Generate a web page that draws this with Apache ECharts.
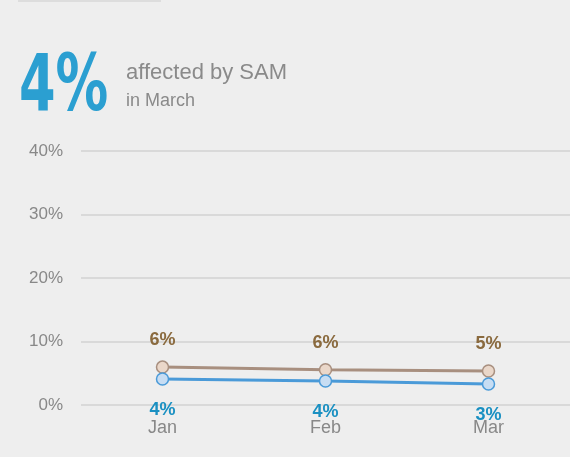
<!DOCTYPE html>
<html><head><meta charset="utf-8">
<script src="https://cdn.jsdelivr.net/npm/echarts@6/dist/echarts.min.js"></script>
<style>html,body{margin:0;padding:0;background:#eeeeee;}#c{width:570px;height:457px;}</style>
</head><body><div id="c"></div>
<script>
const months = ['Jan', 'Feb', 'Mar'];
const samBrown = [5.97, 5.55, 5.35];
const samBlue = [4.09, 3.77, 3.30];
const yTicks = [0, 10, 20, 30, 40];
const headline = '4%';
const subtitle1 = 'affected by SAM';
const subtitle2 = 'in March';

const chart = echarts.init(document.getElementById('c'));
chart.setOption({
  backgroundColor: '#eeeeee',
  animation: false,
  graphic: [
    { type: 'rect', left: 18, top: 0, shape: { width: 143, height: 2 }, style: { fill: '#dddddd' } },
    { type: 'text', x: 19, y: 51, scaleX: 0.75, style: { text: headline, font: 'bold 78px "DejaVu Sans Condensed", "DejaVu Sans", sans-serif', fill: '#2b9fd1' } },
    { type: 'text', x: 126, y: 62, style: { text: subtitle1, font: '22px "Liberation Sans", Arial, sans-serif', fill: '#8a8a8a' } },
    { type: 'text', x: 126, y: 92, style: { text: subtitle2, font: '18px "Liberation Sans", Arial, sans-serif', fill: '#8a8a8a' } }
  ],
  grid: { left: 81, top: 151, width: 493, height: 254 },
  xAxis: {
    type: 'category', data: months, boundaryGap: true,
    axisLine: { show: false }, axisTick: { show: false },
    axisLabel: { color: '#888888', fontSize: 18, fontFamily: 'Liberation Sans, Arial, sans-serif', margin: 14 }
  },
  yAxis: {
    type: 'value', min: 0, max: 40, interval: 10,
    axisLabel: { formatter: v => yTicks.includes(v) ? v + '%' : '', color: '#888888', fontSize: 17, fontFamily: 'Liberation Sans, Arial, sans-serif', margin: 18 },
    splitLine: { lineStyle: { color: '#d9d9d9', width: 2 } },
    axisLine: { show: false }, axisTick: { show: false }
  },
  series: [
    {
      type: 'line', data: samBrown, symbol: 'circle', symbolSize: 12,
      lineStyle: { color: '#a88f7f', width: 3 },
      itemStyle: { color: '#ead7c9', borderColor: '#a88f7f', borderWidth: 1.5 },
      label: { show: true, position: 'top', distance: 11, formatter: p => Math.round(p.value) + '%', color: '#8a6a3e', fontWeight: 'bold', fontSize: 18, fontFamily: 'Liberation Sans, Arial, sans-serif' },
      z: 2
    },
    {
      type: 'line', data: samBlue, symbol: 'circle', symbolSize: 12,
      lineStyle: { color: '#4a9ad8', width: 3 },
      itemStyle: { color: '#c7ddf3', borderColor: '#4a9ad8', borderWidth: 1.5 },
      label: { show: true, position: 'bottom', distance: 15, formatter: p => Math.round(p.value) + '%', color: '#1a90c2', fontWeight: 'bold', fontSize: 18, fontFamily: 'Liberation Sans, Arial, sans-serif' },
      z: 3
    }
  ]
});
</script></body></html>
